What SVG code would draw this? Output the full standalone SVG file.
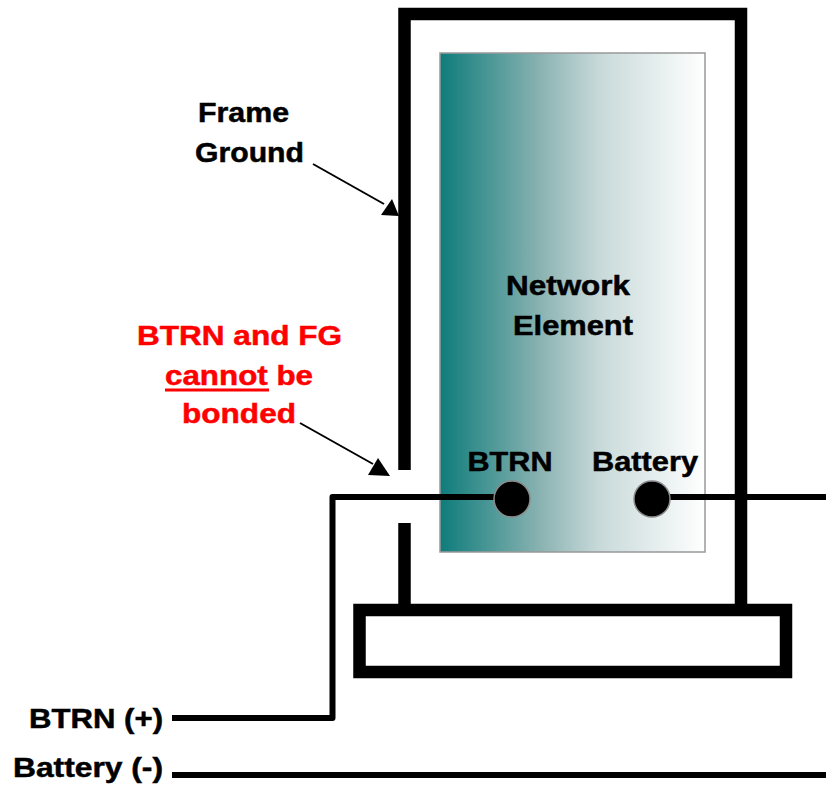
<svg xmlns="http://www.w3.org/2000/svg" width="826" height="789" viewBox="0 0 826 789">
<style>
.lbl{font-family:"Liberation Sans",Arial,sans-serif;font-weight:bold;font-size:28px;fill:#000;stroke:#000;stroke-width:0.5}
.red{fill:#ff0000;stroke:#ff0000}
.thick{fill:none;stroke:#000;stroke-width:12.5;stroke-linecap:butt;stroke-linejoin:miter}
.wire{fill:none;stroke:#000;stroke-width:6;stroke-linejoin:round}
.arr{fill:none;stroke:#000;stroke-width:2}
.term{fill:#000;stroke:#8a8a8a;stroke-width:1.5}
</style>
<defs>
<linearGradient id="ne" x1="0" y1="0" x2="1" y2="0">
<stop offset="0" stop-color="#0E7C7B"/>
<stop offset="0.38" stop-color="#8AB3B2"/>
<stop offset="0.6" stop-color="#C8D9D9"/>
<stop offset="1" stop-color="#FFFFFF"/>
</linearGradient>
</defs>
<g id="frame">
<path class="thick" d="M404.5,470 V14 H741 V604"/>
<path class="thick" d="M404.5,523 V604"/>
</g>
<g id="base">
<rect class="thick" x="359.5" y="610" width="426.5" height="62"/>
</g>
<g id="network-element">
<rect x="440" y="53" width="265" height="499" fill="url(#ne)" stroke="#999" stroke-width="1.5"/>
<text class="lbl" x="568" y="295" text-anchor="middle" textLength="124" lengthAdjust="spacingAndGlyphs">Network</text>
<text class="lbl" x="573" y="335" text-anchor="middle" textLength="120" lengthAdjust="spacingAndGlyphs">Element</text>
</g>
<g id="connectors">
<path class="wire" d="M512,497 H332.5 V718 H172"/>
<path class="wire" d="M652,497 H826"/>
<path class="wire" d="M172,775 H826"/>
<line class="arr" x1="313" y1="164" x2="384" y2="204"/>
<path d="M399,216 L381,215 L392,199 Z" fill="#000"/>
<line class="arr" x1="300" y1="423" x2="373" y2="464"/>
<path d="M390,476 L368,475 L378,458 Z" fill="#000"/>
</g>
<g id="btrn-terminal">
<circle class="term" cx="512" cy="499" r="18"/>
<text class="lbl" x="510" y="471" text-anchor="middle" textLength="85" lengthAdjust="spacingAndGlyphs">BTRN</text>
</g>
<g id="battery-terminal">
<circle class="term" cx="652" cy="499" r="18"/>
<text class="lbl" x="645" y="471" text-anchor="middle" textLength="106" lengthAdjust="spacingAndGlyphs">Battery</text>
</g>
<g id="frame-ground-label">
<text class="lbl" x="243.5" y="122" text-anchor="middle" textLength="91" lengthAdjust="spacingAndGlyphs">Frame</text>
<text class="lbl" x="249.5" y="162" text-anchor="middle" textLength="109" lengthAdjust="spacingAndGlyphs">Ground</text>
</g>
<g id="warning-label">
<text class="lbl red" x="239.5" y="345" text-anchor="middle" textLength="205" lengthAdjust="spacingAndGlyphs">BTRN and FG</text>
<text class="lbl red" x="239" y="385" text-anchor="middle" textLength="148" lengthAdjust="spacingAndGlyphs">cannot be</text>
<rect x="165" y="388.5" width="104" height="3" fill="#ff0000"/>
<text class="lbl red" x="239" y="423" text-anchor="middle" textLength="114" lengthAdjust="spacingAndGlyphs">bonded</text>
</g>
<g id="btrn-plus-label">
<text class="lbl" x="163" y="728" text-anchor="end" textLength="134" lengthAdjust="spacingAndGlyphs">BTRN (+)</text>
</g>
<g id="battery-minus-label">
<text class="lbl" x="163" y="777" text-anchor="end" textLength="150" lengthAdjust="spacingAndGlyphs">Battery (-)</text>
</g>
</svg>
